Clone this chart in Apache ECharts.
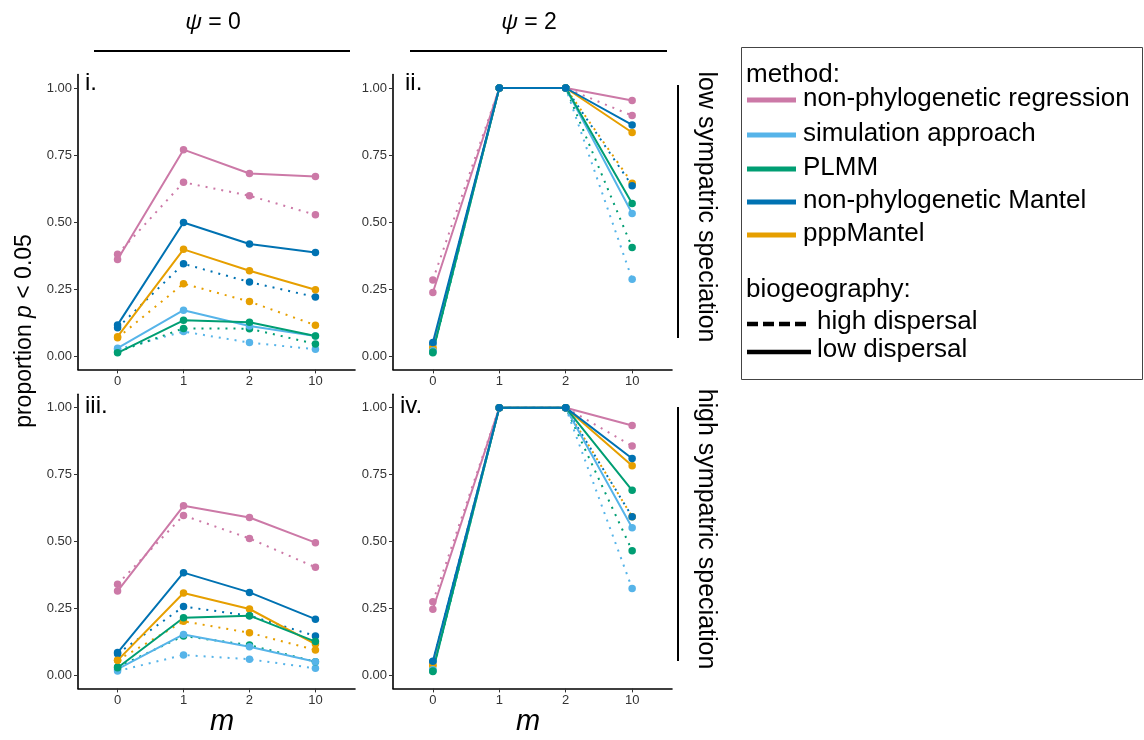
<!DOCTYPE html>
<html><head><meta charset="utf-8">
<script src="https://cdn.jsdelivr.net/npm/echarts@6/dist/echarts.min.js"></script>
<style>html,body{margin:0;padding:0;background:#fff}#c{width:1144px;height:740px}</style>
</head><body><div id="c"></div>
<script>
const methods = ['non-phylogenetic regression','simulation approach','PLMM','non-phylogenetic Mantel','pppMantel'];
const methodColors = ['#CC79A7','#56B4E9','#009E73','#0072B2','#E69F00'];
const mTicks = ['0','1','2','10'];
const yTicks = [0,0.25,0.5,0.75,1];
const panelLabels = ['i.','ii.','iii.','iv.'];
const psiLabels = ['0','2'];
const rowLabels = ['low sympatric speciation','high sympatric speciation'];
const dispersalLabels = ['high dispersal','low dispersal'];

// rows follow `methods`; columns are m = 0, 1, 2, 10
const panelI_high = [
 [0.380,0.648,0.598,0.527],
 [0.025,0.091,0.050,0.025],
 [0.015,0.103,0.102,0.045],
 [0.105,0.344,0.276,0.220],
 [0.068,0.270,0.203,0.115]];
const panelI_low = [
 [0.360,0.770,0.681,0.670],
 [0.029,0.171,0.112,0.075],
 [0.012,0.133,0.126,0.075],
 [0.116,0.498,0.418,0.386],
 [0.072,0.398,0.318,0.247]];
const panelII_high = [
 [0.284,1,1,0.897],
 [0.020,1,1,0.286],
 [0.012,1,1,0.405],
 [0.045,1,1,0.635],
 [0.030,1,1,0.645]];
const panelII_low = [
 [0.237,1,1,0.953],
 [0.020,1,1,0.532],
 [0.015,1,1,0.569],
 [0.050,1,1,0.862],
 [0.030,1,1,0.834]];
const panelIII_high = [
 [0.340,0.597,0.511,0.403],
 [0.015,0.075,0.059,0.025],
 [0.030,0.146,0.112,0.050],
 [0.080,0.256,0.222,0.146],
 [0.055,0.201,0.158,0.094]];
const panelIII_low = [
 [0.314,0.633,0.589,0.495],
 [0.022,0.152,0.106,0.050],
 [0.027,0.214,0.222,0.125],
 [0.084,0.383,0.309,0.209],
 [0.055,0.307,0.247,0.116]];
const panelIV_high = [
 [0.274,1,1,0.857],
 [0.020,1,1,0.324],
 [0.013,1,1,0.465],
 [0.050,1,1,0.592],
 [0.035,1,1,0.592]];
const panelIV_low = [
 [0.246,1,1,0.933],
 [0.020,1,1,0.551],
 [0.015,1,1,0.691],
 [0.052,1,1,0.810],
 [0.037,1,1,0.783]];

const panels = [
  {high: panelI_high, low: panelI_low},
  {high: panelII_high, low: panelII_low},
  {high: panelIII_high, low: panelIII_low},
  {high: panelIV_high, low: panelIV_low}
];

const FONT = 'Liberation Sans, Arial, Helvetica, sans-serif';
const grids = [
  {left: 78, top: 74.6, width: 277, height: 294.8},
  {left: 393, top: 74.6, width: 279, height: 294.8},
  {left: 78, top: 394.3, width: 277, height: 294.1},
  {left: 393, top: 394.3, width: 279, height: 294.1}
];
const tickIdx = mTicks.map((_, i) => i);

const xAxes = grids.map((g, p) => ({
  type: 'value', gridIndex: p, min: -0.6, max: 3.6,
  axisLine: {onZero: false, lineStyle: {color: '#000', width: 1.6}},
  axisTick: {customValues: tickIdx, length: 4, lineStyle: {color: '#333', width: 1}},
  axisLabel: {customValues: tickIdx, formatter: v => mTicks[Math.round(v)], fontSize: 13, color: '#333', fontFamily: FONT, margin: 6},
  splitLine: {show: false}
}));
const yAxes = grids.map((g, p) => ({
  type: 'value', gridIndex: p, min: -0.05, max: 1.05,
  axisLine: {onZero: false, lineStyle: {color: '#000', width: 1.6}},
  axisTick: {customValues: yTicks, length: 4, lineStyle: {color: '#333', width: 1}},
  axisLabel: {customValues: yTicks, formatter: v => v.toFixed(2), fontSize: 13, color: '#333', fontFamily: FONT, margin: 6},
  splitLine: {show: false}
}));

const drawOrder = [4, 0, 1, 2, 3];
const series = [];
panels.forEach((pd, p) => {
  [['high', [2, 6]], ['low', 'solid']].forEach(([key, dash]) => {
    drawOrder.forEach(m => {
      const data = pd[key][m].map((v, i) => [i, v]);
      series.push({
        type: 'line', xAxisIndex: p, yAxisIndex: p, data,
        symbol: 'none', silent: true, animation: false, z: 2,
        lineStyle: {color: methodColors[m], width: 2, type: dash, cap: 'butt'}
      });
    });
  });
  ['high', 'low'].forEach(key => {
    drawOrder.forEach(m => {
      const data = pd[key][m].map((v, i) => [i, v]);
      series.push({
        type: 'scatter', xAxisIndex: p, yAxisIndex: p, data,
        symbol: 'circle', symbolSize: 7.5, silent: true, animation: false, z: 3,
        itemStyle: {color: methodColors[m], opacity: 1}
      });
    });
  });
});

const graphic = [];
// column strips
const psiX = [213, 529];
const psiLines = [[94, 350], [410, 667]];
psiLabels.forEach((v, i) => {
  graphic.push({type: 'text', x: psiX[i], y: 23, style: {
    text: '{i|ψ} = ' + v, align: 'center', verticalAlign: 'middle', fill: '#000',
    font: '23px ' + FONT,
    rich: {i: {fontStyle: 'italic', fontSize: 23, fontFamily: FONT}}
  }});
  graphic.push({type: 'line', shape: {x1: psiLines[i][0], y1: 51, x2: psiLines[i][1], y2: 51}, style: {stroke: '#000', lineWidth: 2}});
});
// row strips
const rowY = [207, 529];
const rowLines = [[85, 338], [407, 661]];
rowLabels.forEach((t, i) => {
  graphic.push({type: 'text', x: 706, y: rowY[i], rotation: -Math.PI / 2, style: {
    text: t, align: 'center', verticalAlign: 'middle', fill: '#000', font: '25px ' + FONT
  }});
  graphic.push({type: 'line', shape: {x1: 678, y1: rowLines[i][0], x2: 678, y2: rowLines[i][1]}, style: {stroke: '#000', lineWidth: 2}});
});
// y axis title
graphic.push({type: 'text', x: 25, y: 331, rotation: Math.PI / 2, style: {
  text: '{a|proportion }{b|p}{a| < 0.05}', align: 'center', verticalAlign: 'middle', fill: '#000',
  font: '23px ' + FONT,
  rich: {a: {fontSize: 23, fontFamily: FONT}, b: {fontSize: 23, fontFamily: FONT, fontStyle: 'italic'}}
}});
// x axis titles
[222, 528].forEach(x => {
  graphic.push({type: 'text', x: x, y: 722, style: {
    text: 'm', align: 'center', verticalAlign: 'middle', fill: '#000', font: 'italic 29px ' + FONT
  }});
});
// panel labels
const plPos = [[85, 83], [405, 83], [85, 406], [400, 406]];
panelLabels.forEach((t, i) => {
  graphic.push({type: 'text', x: plPos[i][0], y: plPos[i][1], style: {
    text: t, align: 'left', verticalAlign: 'middle', fill: '#000', font: '24px ' + FONT
  }});
});
// legend
graphic.push({type: 'rect', shape: {x: 741.5, y: 47.5, width: 401, height: 332}, style: {fill: '#fff', stroke: '#444', lineWidth: 1}});
graphic.push({type: 'text', x: 746, y: 75, style: {text: 'method:', align: 'left', verticalAlign: 'middle', fill: '#000', font: '26px ' + FONT}});
const legY = [100, 135, 169, 202, 235];
methods.forEach((name, i) => {
  graphic.push({type: 'line', shape: {x1: 747, y1: legY[i], x2: 796, y2: legY[i]}, style: {stroke: methodColors[i], lineWidth: 5}});
  graphic.push({type: 'text', x: 803, y: legY[i] - 1, style: {text: name, align: 'left', verticalAlign: 'middle', fill: '#000', font: '26px ' + FONT}});
});
graphic.push({type: 'text', x: 746, y: 290, style: {text: 'biogeography:', align: 'left', verticalAlign: 'middle', fill: '#000', font: '26px ' + FONT}});
const dispY = [324, 352];
const dispDash = [[11, 5], null];
dispersalLabels.forEach((name, i) => {
  graphic.push({type: 'line', shape: {x1: 747, y1: dispY[i], x2: 811, y2: dispY[i]}, style: {stroke: '#000', lineWidth: 4.5, lineDash: dispDash[i]}});
  graphic.push({type: 'text', x: 817, y: dispY[i] - 2, style: {text: name, align: 'left', verticalAlign: 'middle', fill: '#000', font: '26px ' + FONT}});
});

const chart = echarts.init(document.getElementById('c'), null, {renderer: 'canvas'});
chart.setOption({
  animation: false,
  backgroundColor: '#fff',
  grid: grids.map(g => Object.assign({containLabel: false}, g)),
  xAxis: xAxes,
  yAxis: yAxes,
  series: series,
  graphic: graphic
});
</script>
</body></html>
